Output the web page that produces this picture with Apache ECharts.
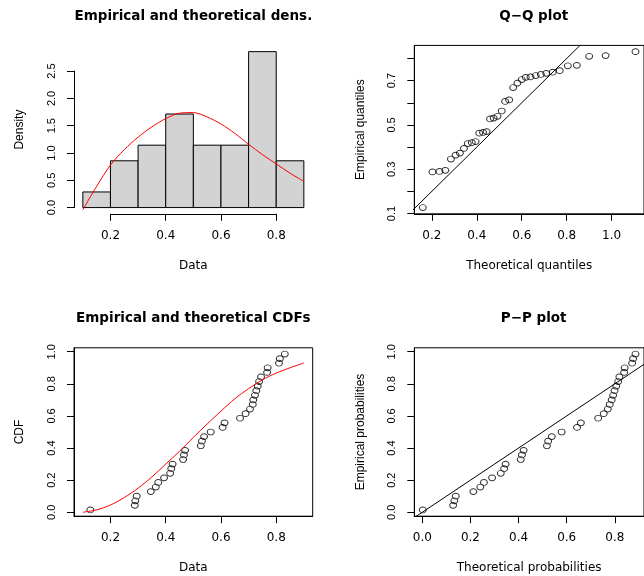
<!DOCTYPE html>
<html><head><meta charset="utf-8">
<script src="https://cdn.jsdelivr.net/npm/echarts@6/dist/echarts.min.js"></script>
<style>html,body{margin:0;padding:0;background:#fff}#c{width:644px;height:576px}</style>
</head><body><div id="c"></div>
<script>
// ---------- data ----------
const breaks = [0.1, 0.2, 0.3, 0.4, 0.5, 0.6, 0.7, 0.8, 0.9];
const densities = [0.286, 0.857, 1.143, 1.714, 1.143, 1.143, 2.857, 0.857];
const curveX = [0.1, 0.15, 0.2, 0.25, 0.3, 0.35, 0.4, 0.45, 0.5, 0.55, 0.6, 0.65, 0.7, 0.75, 0.8, 0.85, 0.9];
const densCurveY = [-0.04, 0.39, 0.78, 1.06, 1.29, 1.48, 1.63, 1.73, 1.74, 1.66, 1.53, 1.36, 1.16, 0.97, 0.80, 0.63, 0.48];
const cdfCurveY = [0.0, 0.015, 0.045, 0.092, 0.15, 0.22, 0.30, 0.38, 0.466, 0.55, 0.63, 0.707, 0.77, 0.825, 0.867, 0.90, 0.93];
const sortedData = [0.127, 0.288, 0.290, 0.295, 0.346, 0.364, 0.373, 0.394, 0.416, 0.420, 0.425, 0.463, 0.466, 0.470, 0.527, 0.531, 0.539, 0.563, 0.606, 0.613, 0.669, 0.689, 0.705, 0.715, 0.717, 0.723, 0.728, 0.733, 0.738, 0.745, 0.767, 0.769, 0.810, 0.813, 0.831];
const empiricalProbs = [0.0143, 0.0429, 0.0714, 0.1, 0.1286, 0.1571, 0.1857, 0.2143, 0.2429, 0.2714, 0.3, 0.3286, 0.3571, 0.3857, 0.4143, 0.4429, 0.4714, 0.5, 0.5286, 0.5571, 0.5857, 0.6143, 0.6429, 0.6714, 0.7, 0.7286, 0.7571, 0.7857, 0.8143, 0.8429, 0.8714, 0.9, 0.9286, 0.9571, 0.9857];
const theoQuantiles = [0.160, 0.203, 0.234, 0.260, 0.285, 0.306, 0.325, 0.343, 0.360, 0.378, 0.395, 0.411, 0.428, 0.444, 0.459, 0.475, 0.492, 0.511, 0.526, 0.544, 0.562, 0.581, 0.600, 0.618, 0.639, 0.662, 0.685, 0.709, 0.738, 0.769, 0.805, 0.845, 0.900, 0.973, 1.106];
const theoProbs = [0.002, 0.128, 0.133, 0.139, 0.212, 0.241, 0.256, 0.290, 0.326, 0.340, 0.346, 0.409, 0.414, 0.421, 0.518, 0.523, 0.538, 0.579, 0.643, 0.659, 0.731, 0.754, 0.771, 0.779, 0.787, 0.793, 0.799, 0.806, 0.814, 0.819, 0.839, 0.841, 0.872, 0.876, 0.886];
const refLine = [-1, 2];

// ---------- ticks & texts ----------
const histXTicks = [0.2, 0.4, 0.6, 0.8];
const histYTicks = [0, 0.5, 1.0, 1.5, 2.0, 2.5];
const qqXTicks = [0.2, 0.4, 0.6, 0.8, 1.0];
const qqYTicks = [0.1, 0.2, 0.3, 0.4, 0.5, 0.6, 0.7, 0.8];
const qqYLabels = [0.1, 0.3, 0.5, 0.7];
const probTicks = [0, 0.2, 0.4, 0.6, 0.8, 1.0];
const titles = ['Empirical and theoretical dens.', 'Q\u2212Q plot', 'Empirical and theoretical CDFs', 'P\u2212P plot'];
const xNames = ['Data', 'Theoretical quantiles', 'Data', 'Theoretical probabilities'];
const yNames = ['Density', 'Empirical quantiles', 'CDF', 'Empirical probabilities'];

// ---------- layout ----------
const PL = [74, 414.3], PT = [45.4, 347.8], PW = 238.7, PH = 168.4;
const HFONT = 'DejaVu Sans', VFONT = 'Liberation Sans';

function ext(a) { const lo = Math.min(...a), hi = Math.max(...a), d = (hi - lo) * 0.04; return [lo - d, hi + d]; }
const histX = ext([breaks[0], breaks[breaks.length - 1]]);
const histY = ext([0, Math.max(...densities)]);
const qqX = ext(theoQuantiles), qqY = ext(sortedData);
const probY = ext(empiricalProbs);
const ppX = ext(theoProbs);

function px(v, r, start, len) { return start + (v - r[0]) / (r[1] - r[0]) * len; }
function pyTop(v, r, top, len) { return top + (r[1] - v) / (r[1] - r[0]) * len; }

const fmt = v => Number(v).toFixed(1);
const tickStyle = { show: true, inside: false, length: 7, lineStyle: { color: '#000', width: 1 } };

function xAxis(gi, r, ticks, name, gap, opts) {
  return Object.assign({
    type: 'value', gridIndex: gi, min: r[0], max: r[1], position: 'bottom',
    axisLine: { show: true, onZero: false, lineStyle: { color: '#000', width: 1 } },
    axisTick: Object.assign({ customValues: ticks }, tickStyle),
    axisLabel: { customValues: ticks, formatter: fmt, margin: 16, color: '#000', fontFamily: HFONT, fontSize: 12 },
    splitLine: { show: false },
    name: name, nameLocation: 'middle', nameGap: gap,
    nameTextStyle: { color: '#000', fontFamily: HFONT, fontSize: 12 }
  }, opts || {});
}
function yAxis(gi, r, ticks, labels, name, gap, opts) {
  return Object.assign({
    type: 'value', gridIndex: gi, min: r[0], max: r[1], position: 'left',
    axisLine: { show: true, onZero: false, lineStyle: { color: '#000', width: 1 } },
    axisTick: Object.assign({ customValues: ticks }, tickStyle),
    axisLabel: { customValues: labels, formatter: fmt, rotate: 90, margin: 17, color: '#000', fontFamily: VFONT, fontSize: 11 },
    splitLine: { show: false },
    name: name, nameLocation: 'middle', nameGap: gap, nameRotate: 90,
    nameTextStyle: { color: '#000', fontFamily: VFONT, fontSize: 12 }
  }, opts || {});
}
const hidden = { axisLine: { show: false }, axisTick: { show: false }, axisLabel: { show: false } };

const grids = [
  { left: PL[0], top: PT[0], width: PW, height: PH, show: false },
  // histogram axis spans (R draws axis only between first and last tick)
  { left: px(histXTicks[0], histX, PL[0], PW), top: PT[0], width: px(histXTicks[histXTicks.length - 1], histX, PL[0], PW) - px(histXTicks[0], histX, PL[0], PW), height: PH, show: false },
  { left: PL[0], top: pyTop(histYTicks[histYTicks.length - 1], histY, PT[0], PH), width: PW, height: pyTop(histYTicks[0], histY, PT[0], PH) - pyTop(histYTicks[histYTicks.length - 1], histY, PT[0], PH), show: false },
  { left: PL[1], top: PT[0], width: PW, height: PH, show: true, borderColor: '#000', borderWidth: 1 },
  { left: PL[0], top: PT[1], width: PW, height: PH, show: true, borderColor: '#000', borderWidth: 1 },
  { left: PL[1], top: PT[1], width: PW, height: PH, show: true, borderColor: '#000', borderWidth: 1 }
];

const xAxes = [
  xAxis(0, histX, [], xNames[0], 46, hidden),
  xAxis(1, [histXTicks[0], histXTicks[histXTicks.length - 1]], histXTicks, '', 0, { offset: pyTop(histY[0], histY, PT[0], PH) - (PT[0] + PH) }),
  xAxis(2, histX, [], '', 0, hidden),
  xAxis(3, qqX, qqXTicks, xNames[1], 46),
  xAxis(4, histX, histXTicks, xNames[2], 46),
  xAxis(5, ppX, probTicks.filter(t => t <= ppX[1]), xNames[3], 46)
];
const yAxes = [
  yAxis(0, histY, [], [], yNames[0], 48, hidden),
  yAxis(1, histY, [], [], '', 0, hidden),
  yAxis(2, [histYTicks[0], histYTicks[histYTicks.length - 1]], histYTicks, histYTicks, '', 0),
  yAxis(3, qqY, qqYTicks, qqYLabels, yNames[1], 48),
  yAxis(4, probY, probTicks, probTicks, yNames[2], 48),
  yAxis(5, probY, probTicks, probTicks, yNames[3], 48)
];

const pointStyle = { color: 'rgba(0,0,0,0)', borderColor: '#000', borderWidth: 1 };
const SYM = [6.8, 5.8];
const zip = (a, b) => a.map((v, i) => [v, b[i]]);

const series = [
  { type: 'custom', xAxisIndex: 0, yAxisIndex: 0, silent: true,
    data: densities.map((d, i) => [breaks[i], breaks[i + 1], d]),
    renderItem: function (params, api) {
      const p0 = api.coord([api.value(0), api.value(2)]);
      const p1 = api.coord([api.value(1), 0]);
      return { type: 'rect', shape: { x: p0[0], y: p0[1], width: p1[0] - p0[0], height: p1[1] - p0[1] },
        style: { fill: '#d3d3d3', stroke: '#000', lineWidth: 1 } };
    } },
  { type: 'line', xAxisIndex: 0, yAxisIndex: 0, data: zip(curveX, densCurveY), smooth: 0.3, symbol: 'none', silent: true, clip: false,
    lineStyle: { color: '#ff0000', width: 1 }, z: 5 },
  { type: 'scatter', xAxisIndex: 3, yAxisIndex: 3, data: zip(theoQuantiles, sortedData), symbol: 'circle', symbolSize: SYM, itemStyle: pointStyle, silent: true },
  { type: 'line', xAxisIndex: 3, yAxisIndex: 3, data: zip(refLine, refLine), symbol: 'none', silent: true, clip: true, lineStyle: { color: '#000', width: 1 } },
  { type: 'line', xAxisIndex: 4, yAxisIndex: 4, data: zip(curveX, cdfCurveY), smooth: 0.3, symbol: 'none', silent: true, lineStyle: { color: '#ff0000', width: 1 } },
  { type: 'scatter', xAxisIndex: 4, yAxisIndex: 4, data: zip(sortedData, empiricalProbs), symbol: 'circle', symbolSize: SYM, itemStyle: pointStyle, silent: true },
  { type: 'scatter', xAxisIndex: 5, yAxisIndex: 5, data: zip(theoProbs, empiricalProbs), symbol: 'circle', symbolSize: SYM, itemStyle: pointStyle, silent: true },
  { type: 'line', xAxisIndex: 5, yAxisIndex: 5, data: zip(refLine, refLine), symbol: 'none', silent: true, clip: true, lineStyle: { color: '#000', width: 1 } }
];

const titleY = [16.7, 318.3];
const graphic = titles.map((t, i) => ({
  type: 'text', silent: true,
  x: PL[i % 2] + PW / 2, y: titleY[Math.floor(i / 2)],
  style: { text: t, textAlign: 'center', textVerticalAlign: 'middle', fill: '#000', font: 'bold 13.5px "DejaVu Sans"' }
}));

const chart = echarts.init(document.getElementById('c'), null, { renderer: 'canvas' });
chart.setOption({
  animation: false,
  backgroundColor: '#fff',
  grid: grids, xAxis: xAxes, yAxis: yAxes, series: series, graphic: graphic
});
</script></body></html>
